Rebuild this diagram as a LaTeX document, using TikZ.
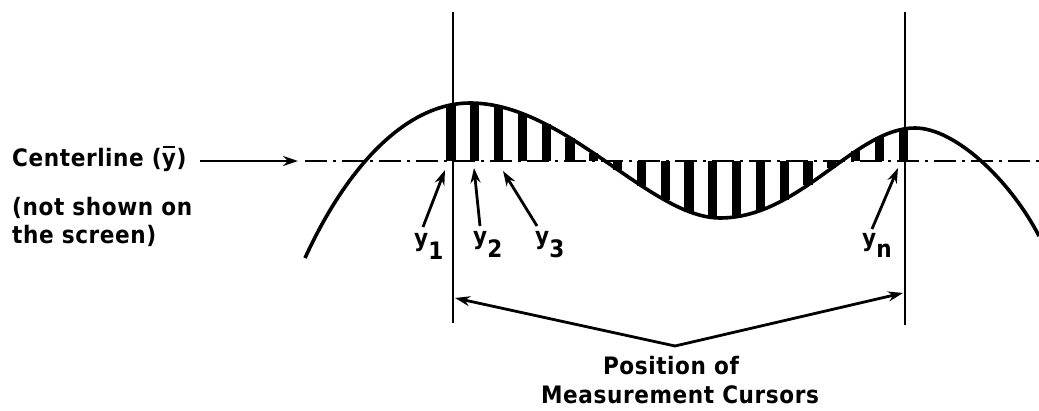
\documentclass[tikz,border=0pt]{standalone}
\usepackage{fontspec}
\setmainfont{DejaVu Sans}
\newfontfamily\labfont{DejaVu Sans Condensed Bold}[LetterSpace=2.5]
\usetikzlibrary{arrows.meta,intersections,calc}
\newcommand{\ybar}{\rlap{\hspace{0.04em}\raisebox{0.8em}{\rule{0.5em}{2.2pt}}}y}
\tikzset{
  lab/.style={font=\labfont\fontsize{24}{30}\selectfont, inner sep=0pt},
  cursor/.style={line width=2.2pt},
  wave/.style={line width=3.6pt},
  cline/.style={line width=2.3pt, dash pattern=on 22pt off 6pt on 3pt off 6pt},
  ptr/.style={line width=2.8pt, -{Stealth[length=15pt,width=10pt]}},
  bar/.style={fill=black}
}
\begin{document}
\begin{tikzpicture}[x=1pt,y=-1pt]
\useasboundingbox (0,0) rectangle (1039,411);
% centerline
\coordinate (c0) at (305,161);
\coordinate (c1) at (1039,161);
\draw[cline] (c0) -- (c1);
% wave
\path[name path=curve] (305,258) .. controls (350,160) and (410,103) .. (470,103)
  .. controls (565,103) and (650,218) .. (720,218)
  .. controls (800,218) and (855,128) .. (915,128)
  .. controls (955,128) and (1010,180) .. (1039,236);
% bars
\foreach \i in {0,...,19}{
  \pgfmathsetmacro{\xx}{451+23.8*\i}
  \path[name path=vl] (\xx,0) -- (\xx,411);
  \path[name intersections={of=curve and vl, by=P\i}];
  \fill[bar] ([xshift=-4.6pt]P\i) rectangle (\xx+4.6,161);
}
\draw[wave] (305,258) .. controls (350,160) and (410,103) .. (470,103)
  .. controls (565,103) and (650,218) .. (720,218)
  .. controls (800,218) and (855,128) .. (915,128)
  .. controls (955,128) and (1010,180) .. (1039,236);
% cursors
\coordinate (L0) at (453,12);
\coordinate (L1) at (453,323);
\coordinate (R0) at (905,12);
\coordinate (R1) at (905,325);
\draw[cursor] (L0) -- (L1);
\draw[cursor] (R0) -- (R1);
% left texts
\node[lab, anchor=base west] (cl) at (12,167) {Centerline (\ybar)};
\node[lab, anchor=base west] (ns1) at (12,216) {(not shown on};
\node[lab, anchor=base west] (ns2) at (12,244) {the screen)};
\coordinate (clTip) at (298,161);
\coordinate (clStart) at (200,161);
\draw[ptr] (clStart) -- (clTip);
% y labels
\node[lab, anchor=base west] (y1) at (414,247) {y\raisebox{-13pt}{1}};
\node[lab, anchor=base west] (y2) at (473,245) {y\raisebox{-13pt}{2}};
\node[lab, anchor=base west] (y3) at (535,245) {y\raisebox{-13pt}{3}};
\node[lab, anchor=base west] (yn) at (862,247) {y\raisebox{-11pt}{n}};
\coordinate (t1) at (445,170);
\coordinate (t2) at (474,168);
\coordinate (t3) at (503,171);
\coordinate (tn) at (898,168);
\coordinate (s1) at (423,227);
\coordinate (s2) at (480,226);
\coordinate (s3) at (537,226);
\coordinate (sn) at (872,229);
\draw[ptr] (s1) -- (t1);
\draw[ptr] (s2) -- (t2);
\draw[ptr] (s3) -- (t3);
\draw[ptr] (sn) -- (tn);
% measurement cursors arrows
\coordinate (apex) at (675,346);
\coordinate (aL) at (455,298);
\coordinate (aR) at (903,293);
\draw[ptr] (apex) -- (aL);
\draw[ptr] (apex) -- (aR);
\node[lab, anchor=base] (pos) at (671,375) {Position of};
\node[lab, anchor=base] (mc) at (680,404) {Measurement Cursors};
\end{tikzpicture}
\end{document}
